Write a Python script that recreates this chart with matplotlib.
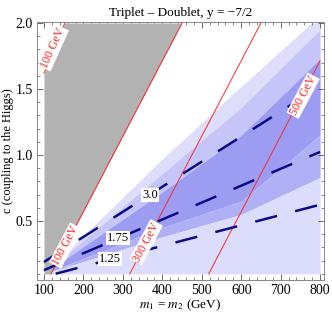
import numpy as np
import matplotlib.pyplot as plt
from matplotlib.ticker import MultipleLocator

plt.rcParams["font.family"] = ["Liberation Serif", "DejaVu Serif"]
plt.rcParams["mathtext.fontset"] = "stix"

# shaded bands: boundary curves (m in GeV, c), listed top to bottom
band_m = [100, 400, 600, 800]
b_white = [0.10, 0.97, 1.52, 2.06]
b_light1 = [0.10, 0.86, 1.36, 1.95]
b_light2 = [0.10, 0.72, 1.15, 1.73]
b_dark = [0.10, 0.45, 0.65, 1.15]
b_mid = [0.10, 0.38, 0.55, 0.83]
band_colors = ["#dedefc", "#c5c5f9", "#9c9cf3", "#b0b0f6", "#dcdcfc"]

# contours: c = k * m
contour_levels = ["3.0", "1.75", "1.25"]
contour_k = [0.00190, 0.00128, 0.00078]
label_m = [369, 288, 268]

# lightest-state mass lines: m = M + slope * c
mass_lines = [100, 300, 500]
mass_slope = 175.0
upper_line_m = [100, 153]
upper_line_c = [1.62, 2.0]

c_min, c_max = 0.1, 2.0
m_min, m_max = 100, 800

fig = plt.figure(figsize=(3.32, 3.14), dpi=100)
ax = fig.add_axes([0.111, 0.108, 0.865, 0.822])

m = np.linspace(m_min, m_max, 400)
bounds = [np.interp(m, band_m, b) for b in (b_white, b_light1, b_light2, b_dark, b_mid)]
bounds = [np.clip(b, c_min, c_max) for b in bounds]
bounds.append(np.full_like(m, c_min))
for i, col in enumerate(band_colors):
    ax.fill_between(m, bounds[i + 1], bounds[i], color=col, lw=0, zorder=1)

# excluded (gray) region between the two 100 GeV lines
c_grid = np.linspace(c_min, c_max, 200)
m_right = mass_lines[0] + mass_slope * c_grid
m_left = np.where(c_grid < upper_line_c[0], m_min,
                  np.interp(c_grid, upper_line_c, upper_line_m))
ax.fill_betweenx(c_grid, m_left, m_right, color="#b2b2b2", lw=0, zorder=2)

# red lines
for M in mass_lines:
    cc = np.linspace(c_min, c_max, 200)
    mm = M + mass_slope * cc
    keep = mm <= m_max
    ax.plot(mm[keep], cc[keep], color="#ff2a2a", lw=0.7, zorder=3)
cc = np.linspace(upper_line_c[0], upper_line_c[1], 50)
ax.plot(np.interp(cc, upper_line_c, upper_line_m), cc, color="#ff2a2a", lw=0.7, zorder=3)

red_box = dict(boxstyle="square,pad=0.08", fc="white", ec="none")
red_labels = [(124, 1.81, 66), (155, 0.315, 62), (359, 0.34, 62), (757, 1.45, 62)]
for (lx, ly, rot), txt in zip(red_labels, ["100 GeV", "100 GeV", "300 GeV", "500 GeV"]):
    ax.text(lx, ly, txt, color="#ff2020", fontsize=8.5, rotation=rot,
            ha="center", va="center", rotation_mode="anchor",
            bbox=red_box, zorder=5)

# dashed contours
for lev, k, lm in zip(contour_levels, contour_k, label_m):
    cl = k * m
    keep = (cl >= c_min) & (cl <= c_max)
    ax.plot(m[keep], cl[keep], color="#0b0b8a", lw=1.8,
            ls=(0, (9, 7.5)), zorder=4)
    ax.text(lm, k * lm, lev, fontsize=9, ha="center", va="center",
            bbox=dict(boxstyle="square,pad=0.08", fc="white", ec="none"), zorder=5)

ax.set_xlim(82, 810)
ax.set_ylim(0.053, 2.008)
ax.xaxis.set_major_locator(MultipleLocator(100))
ax.xaxis.set_minor_locator(MultipleLocator(20))
ax.yaxis.set_major_locator(MultipleLocator(0.5))
ax.yaxis.set_minor_locator(MultipleLocator(0.1))
ax.tick_params(which="both", direction="in", top=True, right=True,
               labelsize=10, color="#555555", pad=3)
ax.tick_params(which="major", length=4, width=0.6)
ax.tick_params(which="minor", length=2, width=0.5)
for sp in ax.spines.values():
    sp.set_color("#888888")
    sp.set_linewidth(0.7)

ax.set_xlabel("$m_1$ = $m_2$ (GeV)", fontsize=9.5, labelpad=0)
ax.set_ylabel("c (coupling to the Higgs)", fontsize=9, labelpad=1)
ax.set_title("Triplet \u2013 Doublet, y = \u22127/2", fontsize=9.5, pad=4)

fig.savefig("out.png", dpi=100)
